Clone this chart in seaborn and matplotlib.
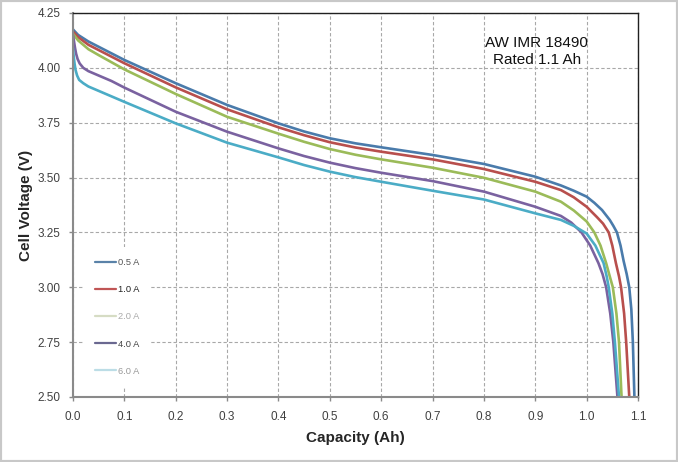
import numpy as np
import pandas as pd
import matplotlib
matplotlib.use("Agg")
import matplotlib.pyplot as plt
from matplotlib.lines import Line2D
from matplotlib.patches import Rectangle
import seaborn as sns

# discharge curves
cap_05 = [0.0, 0.01, 0.03, 0.05, 0.1, 0.2, 0.3, 0.4, 0.45, 0.5, 0.55, 0.6, 0.7, 0.8, 0.9, 0.95, 0.975, 1.0,
          1.015, 1.03, 1.045, 1.052, 1.059, 1.066, 1.072, 1.078, 1.083, 1.087, 1.090, 1.093]
v_05 = [4.175, 4.15, 4.12, 4.096, 4.036, 3.93, 3.831, 3.747, 3.71, 3.679, 3.656, 3.638, 3.603, 3.562, 3.504, 3.464, 3.44, 3.413,
        3.385, 3.352, 3.307, 3.28, 3.25, 3.19, 3.12, 3.06, 3.0, 2.9, 2.75, 2.5]

cap_10 = [0.0, 0.01, 0.03, 0.05, 0.1, 0.2, 0.3, 0.4, 0.45, 0.5, 0.55, 0.6, 0.7, 0.8, 0.9, 0.95, 0.975, 1.0,
          1.02, 1.032, 1.043, 1.05, 1.057, 1.063, 1.067, 1.073, 1.077, 1.083]
v_10 = [4.165, 4.14, 4.105, 4.081, 4.021, 3.911, 3.811, 3.729, 3.693, 3.661, 3.637, 3.618, 3.583, 3.539, 3.481, 3.443, 3.41, 3.367,
        3.32, 3.29, 3.25, 3.19, 3.11, 3.05, 3.0, 2.88, 2.75, 2.5]

cap_20 = [0.0, 0.01, 0.03, 0.05, 0.1, 0.2, 0.3, 0.4, 0.45, 0.5, 0.55, 0.6, 0.7, 0.8, 0.9, 0.95, 0.975, 1.0,
          1.015, 1.027, 1.038, 1.045, 1.051, 1.058, 1.063, 1.068]
v_20 = [4.155, 4.125, 4.085, 4.058, 3.993, 3.881, 3.777, 3.70, 3.663, 3.63, 3.604, 3.583, 3.545, 3.499, 3.436, 3.39, 3.35, 3.30,
        3.25, 3.19, 3.11, 3.05, 3.0, 2.88, 2.75, 2.5]

cap_40 = [0.0, 0.002, 0.004, 0.006, 0.009, 0.013, 0.02, 0.03, 0.05, 0.075, 0.1, 0.2, 0.3, 0.4, 0.45, 0.5, 0.55, 0.6,
          0.7, 0.8, 0.9, 0.95, 0.97, 0.99, 1.007, 1.023, 1.031, 1.038, 1.046, 1.052, 1.060]
v_40 = [4.15, 4.12, 4.09, 4.065, 4.04, 4.02, 4.00, 3.985, 3.965, 3.94, 3.91, 3.80, 3.709, 3.633, 3.598, 3.568, 3.543, 3.522,
        3.484, 3.436, 3.367, 3.325, 3.295, 3.25, 3.19, 3.11, 3.06, 3.0, 2.88, 2.75, 2.5]

cap_60 = [0.0, 0.001, 0.003, 0.005, 0.008, 0.012, 0.02, 0.03, 0.05, 0.075, 0.1, 0.2, 0.3, 0.4, 0.45, 0.5, 0.55, 0.6,
          0.7, 0.8, 0.9, 0.95, 0.975, 1.0, 1.017, 1.033, 1.039, 1.043, 1.05, 1.055, 1.063]
v_60 = [4.09, 4.06, 4.02, 3.99, 3.965, 3.945, 3.93, 3.915, 3.895, 3.87, 3.845, 3.747, 3.659, 3.592, 3.557, 3.527, 3.502, 3.481,
        3.44, 3.40, 3.337, 3.307, 3.28, 3.245, 3.19, 3.11, 3.05, 3.0, 2.88, 2.75, 2.5]

currents = ["0.5 A", "1.0 A", "2.0 A", "4.0 A", "6.0 A"]
colors = ["#4a7bab", "#b84f4d", "#9bbb59", "#7a62a0", "#4bacc6"]
legend_colors = ["#5a82a8", "#c05555", "#d6dcc4", "#6a6890", "#bcdde6"]
legend_text = ["#555555", "#222222", "#aaaaaa", "#444444", "#999999"]

caps = [cap_05, cap_10, cap_20, cap_40, cap_60]
volts = [v_05, v_10, v_20, v_40, v_60]
frames = []
for lab, c, v in zip(currents, caps, volts):
    frames.append(pd.DataFrame({"Capacity": c, "Voltage": v, "Current": lab}))
df = pd.concat(frames, ignore_index=True)

sns.set_style("white")
plt.rcParams['font.family'] = ['Liberation Sans', 'DejaVu Sans']

fig = plt.figure(figsize=(6.78, 4.62), dpi=100)
ax = fig.add_axes([73/678, 1-397/462, 565/678, 384/462])

sns.lineplot(data=df, x="Capacity", y="Voltage", hue="Current", palette=colors,
             linewidth=1.9, sort=False, estimator=None, legend=False, ax=ax)

ax.set_xlim(0, 1.1)
ax.set_ylim(2.5, 4.25)
xt = np.round(np.arange(0, 1.11, 0.1), 1)
yt = np.arange(2.5, 4.26, 0.25)
ax.set_xticks(xt)
ax.set_xticklabels([f"{t:.1f}" for t in xt])
ax.set_yticks(yt)
ax.set_yticklabels([f"{t:.2f}" for t in yt])
ax.grid(True, linestyle=(0, (3, 2)), color="#a8a8a8", linewidth=0.8)

for s in ["left", "bottom"]:
    ax.spines[s].set_color("#8a8a8a")
    ax.spines[s].set_linewidth(1.5)
for s in ["top", "right"]:
    ax.spines[s].set_color("#202020")
    ax.spines[s].set_linewidth(1.0)

ax.tick_params(bottom=True, left=True, direction="out", length=3, width=1,
               color="#8a8a8a", labelsize=8.5, labelcolor="#404040")
ax.tick_params(axis="x", pad=7)
ax.tick_params(axis="y", pad=6)

ax.set_xlabel("Capacity (Ah)", fontsize=11, fontweight="bold")
ax.set_ylabel("Cell Voltage (V)", fontsize=11, fontweight="bold")
ax.xaxis.set_label_coords(0.5, -0.088)
ax.yaxis.set_label_coords(-0.071, 0.5)

ax.text(0.821, 0.900, "AW IMR 18490\nRated 1.1 Ah", transform=ax.transAxes,
        ha="center", va="center", fontsize=11, linespacing=1.3, color="#111111")

handles = [Line2D([], [], color=c, linewidth=1.6) for c in legend_colors]
leg = ax.legend(handles, currents, loc="upper left", bbox_to_anchor=(84/678, 1-247/462),
                bbox_transform=fig.transFigure, frameon=True, fontsize=6.7,
                handlelength=2.2, handletextpad=0.2, labelspacing=1.95,
                borderpad=1.2, borderaxespad=0, fancybox=False)
leg.get_frame().set_facecolor("white")
leg.get_frame().set_edgecolor("none")
leg.get_frame().set_alpha(1.0)
for t, c in zip(leg.get_texts(), legend_text):
    t.set_color(c)

fig.add_artist(Rectangle((0, 0), 1, 1, transform=fig.transFigure, fill=False,
                         edgecolor="#c8c8c8", linewidth=3))

fig.savefig("out.png", dpi=100)
